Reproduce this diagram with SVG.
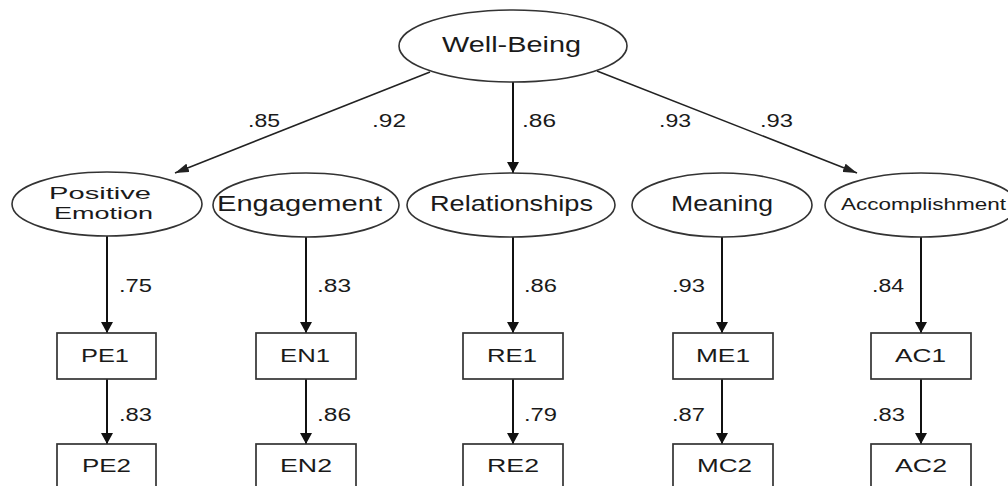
<svg xmlns="http://www.w3.org/2000/svg" width="1008" height="486" viewBox="0 0 1008 486">
<defs>
<style>
.ell{fill:#fff;stroke:#333;stroke-width:1.6}
.box{fill:#fff;stroke:#333;stroke-width:1.7}
.t{font-family:"Liberation Sans",Arial,sans-serif;fill:#1a1a1a}
.n{font-size:22px}
.s{font-size:19px}
.p{font-size:17px}
.a{font-size:16.5px}
.l{font-size:17.5px}
.v{stroke:#111;stroke-width:2;fill:none}
.d{stroke:#222;stroke-width:1.6;fill:none}
</style>
<marker id="av" viewBox="0 0 11 12" refX="11" refY="6" markerWidth="11" markerHeight="12" markerUnits="userSpaceOnUse" orient="auto">
<path d="M0,0 L11,6 L0,12 z" fill="#111"/>
</marker>
<marker id="ad" viewBox="0 0 14 9" refX="14" refY="4.5" markerWidth="14" markerHeight="9" markerUnits="userSpaceOnUse" orient="auto">
<path d="M0,0 L14,4.5 L0,9 z" fill="#222"/>
</marker>
</defs>
<rect width="1008" height="486" fill="#fff"/>

<g id="connectors">
<line class="d" x1="430" y1="72" x2="175" y2="173" marker-end="url(#ad)"/>
<line class="v" x1="513" y1="82" x2="513" y2="173" marker-end="url(#av)"/>
<line class="d" x1="597" y1="71" x2="857" y2="173" marker-end="url(#ad)"/>
<line class="v" x1="107" y1="236" x2="107" y2="333" marker-end="url(#av)"/>
<line class="v" x1="306" y1="236" x2="306" y2="333" marker-end="url(#av)"/>
<line class="v" x1="513" y1="237" x2="513" y2="333" marker-end="url(#av)"/>
<line class="v" x1="722" y1="237" x2="722" y2="333" marker-end="url(#av)"/>
<line class="v" x1="921" y1="237" x2="921" y2="333" marker-end="url(#av)"/>
<line class="v" x1="107" y1="379" x2="107" y2="444" marker-end="url(#av)"/>
<line class="v" x1="306" y1="379" x2="306" y2="444" marker-end="url(#av)"/>
<line class="v" x1="513" y1="379" x2="513" y2="444" marker-end="url(#av)"/>
<line class="v" x1="722" y1="379" x2="722" y2="444" marker-end="url(#av)"/>
<line class="v" x1="921" y1="379" x2="921" y2="444" marker-end="url(#av)"/>
<g class="t l">
<text x="248" y="127" textLength="32" lengthAdjust="spacingAndGlyphs">.85</text>
<text x="372" y="127" textLength="34" lengthAdjust="spacingAndGlyphs">.92</text>
<text x="522" y="127" textLength="34" lengthAdjust="spacingAndGlyphs">.86</text>
<text x="659" y="127" textLength="32" lengthAdjust="spacingAndGlyphs">.93</text>
<text x="760" y="127" textLength="33" lengthAdjust="spacingAndGlyphs">.93</text>
<text x="119" y="292" textLength="33" lengthAdjust="spacingAndGlyphs">.75</text>
<text x="317" y="292" textLength="34" lengthAdjust="spacingAndGlyphs">.83</text>
<text x="524" y="292" textLength="33" lengthAdjust="spacingAndGlyphs">.86</text>
<text x="672" y="292" textLength="33" lengthAdjust="spacingAndGlyphs">.93</text>
<text x="872" y="292" textLength="32" lengthAdjust="spacingAndGlyphs">.84</text>
<text x="119" y="421" textLength="33" lengthAdjust="spacingAndGlyphs">.83</text>
<text x="317" y="421" textLength="34" lengthAdjust="spacingAndGlyphs">.86</text>
<text x="524" y="421" textLength="33" lengthAdjust="spacingAndGlyphs">.79</text>
<text x="672" y="421" textLength="33" lengthAdjust="spacingAndGlyphs">.87</text>
<text x="872" y="421" textLength="33" lengthAdjust="spacingAndGlyphs">.83</text>
</g>
</g>

<g id="well-being">
<ellipse class="ell" cx="513" cy="46" rx="114" ry="36"/>
<text class="t n" x="442" y="52" textLength="139" lengthAdjust="spacingAndGlyphs">Well-Being</text>
</g>
<g id="positive-emotion">
<ellipse class="ell" cx="107" cy="204" rx="95" ry="32"/>
<text class="t p" x="49" y="199" textLength="102" lengthAdjust="spacingAndGlyphs">Positive</text>
<text class="t p" x="54" y="219" textLength="99" lengthAdjust="spacingAndGlyphs">Emotion</text>
</g>
<g id="engagement">
<ellipse class="ell" cx="306" cy="205" rx="93" ry="32"/>
<text class="t n" x="217" y="211" textLength="165" lengthAdjust="spacingAndGlyphs">Engagement</text>
</g>
<g id="relationships">
<ellipse class="ell" cx="511" cy="205" rx="104" ry="32"/>
<text class="t n" x="430" y="211" textLength="163" lengthAdjust="spacingAndGlyphs">Relationships</text>
</g>
<g id="meaning">
<ellipse class="ell" cx="722" cy="205" rx="90" ry="32"/>
<text class="t n" x="671" y="211" textLength="102" lengthAdjust="spacingAndGlyphs">Meaning</text>
</g>
<g id="accomplishment">
<ellipse class="ell" cx="921" cy="205" rx="96" ry="32"/>
<text class="t a" x="841" y="210" textLength="165" lengthAdjust="spacingAndGlyphs">Accomplishment</text>
</g>

<g id="pe1"><rect class="box" x="57" y="333" width="99" height="46"/><text class="t s" x="81" y="362" textLength="48" lengthAdjust="spacingAndGlyphs">PE1</text></g>
<g id="en1"><rect class="box" x="256" y="333" width="100" height="46"/><text class="t s" x="280" y="362" textLength="50" lengthAdjust="spacingAndGlyphs">EN1</text></g>
<g id="re1"><rect class="box" x="463" y="333" width="100" height="46"/><text class="t s" x="487" y="362" textLength="50" lengthAdjust="spacingAndGlyphs">RE1</text></g>
<g id="me1"><rect class="box" x="673" y="333" width="100" height="46"/><text class="t s" x="696" y="362" textLength="54" lengthAdjust="spacingAndGlyphs">ME1</text></g>
<g id="ac1"><rect class="box" x="871" y="333" width="100" height="46"/><text class="t s" x="895" y="362" textLength="51" lengthAdjust="spacingAndGlyphs">AC1</text></g>

<g id="pe2"><rect class="box" x="57" y="444" width="99" height="46"/><text class="t s" x="82" y="472" textLength="49" lengthAdjust="spacingAndGlyphs">PE2</text></g>
<g id="en2"><rect class="box" x="256" y="444" width="100" height="46"/><text class="t s" x="280" y="472" textLength="52" lengthAdjust="spacingAndGlyphs">EN2</text></g>
<g id="re2"><rect class="box" x="463" y="444" width="100" height="46"/><text class="t s" x="487" y="472" textLength="52" lengthAdjust="spacingAndGlyphs">RE2</text></g>
<g id="mc2"><rect class="box" x="673" y="444" width="100" height="46"/><text class="t s" x="697" y="472" textLength="55" lengthAdjust="spacingAndGlyphs">MC2</text></g>
<g id="ac2"><rect class="box" x="871" y="444" width="100" height="46"/><text class="t s" x="895" y="472" textLength="52" lengthAdjust="spacingAndGlyphs">AC2</text></g>
</svg>
